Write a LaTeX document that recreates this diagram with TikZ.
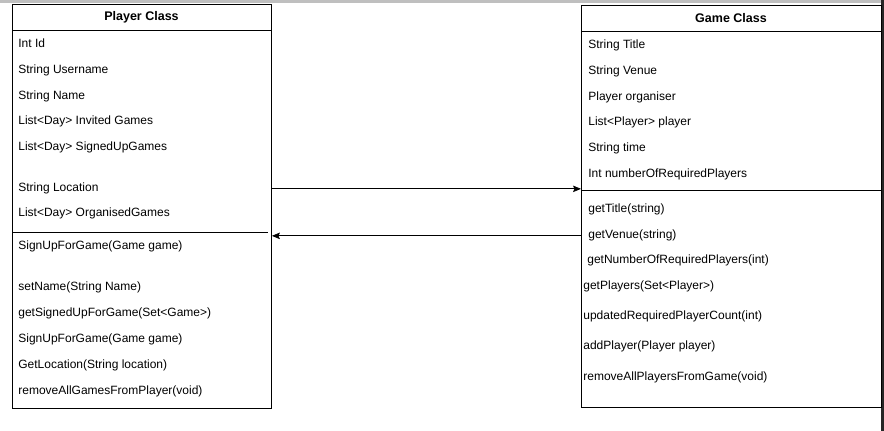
\documentclass[tikz,border=0pt]{standalone}
\usepackage{fontspec}
\setmainfont{Liberation Sans}
\usetikzlibrary{arrows.meta}
\usetikzlibrary{positioning}
\tikzset{
    classbox/.style={draw, line width=0.9pt, anchor=north west, inner sep=0pt},
    classtitle/.style={font=\fontsize{12.5}{14}\selectfont\bfseries},
    member/.style={anchor=base west, inner sep=0pt, font=\fontsize{12}{14}\selectfont},
    divider/.style={line width=0.9pt},
  }
\begin{document}
\begin{tikzpicture}[x=1pt,y=-1pt,->,>={Stealth[length=8pt,width=6.5pt,inset=1.5pt]},line width=0.8pt]
  \useasboundingbox (0,0) rectangle (884,431);
  \fill[white] (0,0) rectangle (884,431);
  % screenshot edges
  \fill[black!25] (0,0) rectangle (884,2.5);
  \fill[black!85] (881,0) rectangle (884,431);

  % player class
  \node[classbox, minimum width=259, minimum height=404] (player) at (12,4) {};
  \node[classtitle] (ptitle) at (141.5,17) {Player Class};
  \draw[-,divider] ([yshift=-26]player.north west) -- ([yshift=-26]player.north east);
  \draw[-,divider] ([yshift=-228]player.north west) -- ([xshift=-4,yshift=-228]player.north east);
  \foreach \t/\y [count=\i] in {Int Id/47.5, String Username/73.5, String Name/99.5,
      List<Day> Invited Games/124.5, List<Day> SignedUpGames/150.5,
      String Location/191.5, List<Day> OrganisedGames/216.5}
    \node[member] (pa\i) at (18,\y) {\t};
  \foreach \t/\y [count=\i] in {SignUpForGame(Game game)/249.5, setName(String Name)/290.5,
      getSignedUpForGame(Set<Game>)/316.5, SignUpForGame(Game game)/342.5,
      GetLocation(String location)/368.5, removeAllGamesFromPlayer(void)/394.5}
    \node[member] (pm\i) at (18,\y) {\t};

  % game class
  \node[classbox, minimum width=300, minimum height=402] (game) at (581,5) {};
  \node[classtitle] (gtitle) at (731,18) {Game Class};
  \draw[-,divider] ([yshift=-26]game.north west) -- ([yshift=-26]game.north east);
  \draw[-,divider] ([yshift=-185]game.north west) -- ([yshift=-185]game.north east);
  \foreach \t/\y [count=\i] in {String Title/48.5, String Venue/74.5, Player organiser/100.5,
      List<Player> player/125.5, String time/151.5, Int numberOfRequiredPlayers/177.5}
    \node[member] (ga\i) at (588,\y) {\t};
  \node[member] (gm1) at (588,212.5) {getTitle(string)};
  \node[member] (gm2) at (588,238.5) {getVenue(string)};
  \node[member] (gm3) at (587,263.5) {getNumberOfRequiredPlayers(int)};
  \foreach \t/\y [count=\i from 4] in {getPlayers(Set<Player>)/289.5,
      updatedRequiredPlayerCount(int)/319.5, addPlayer(Player player)/349.5,
      removeAllPlayersFromGame(void)/380.5}
    \node[member] (gm\i) at (583,\y) {\t};

  \draw (player.east |- pa6.mid) -- (game.west |- pa6.mid);
  \draw (game.west |- gm2.mid) -- (player.east |- gm2.mid);
\end{tikzpicture}
\end{document}
